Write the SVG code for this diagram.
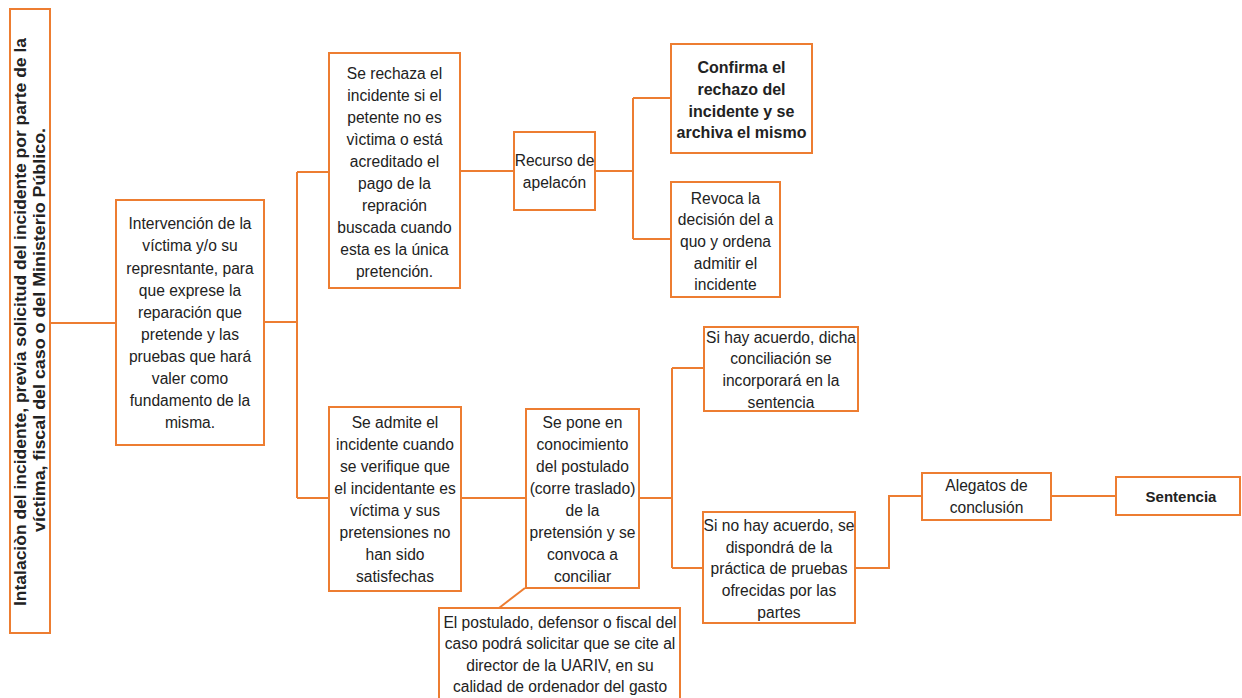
<svg xmlns="http://www.w3.org/2000/svg" width="1242" height="698" viewBox="0 0 1242 698">
<style>
.box{fill:#fff;stroke:#ED7D31;stroke-width:2}
.c{fill:none;stroke:#ED7D31;stroke-width:2}
.t{font-family:"Liberation Sans",Arial,sans-serif;font-size:15.6px;fill:#222;text-anchor:middle;dominant-baseline:central}
.b{font-weight:bold;font-size:15px}
.b2{font-weight:bold;font-size:16px}
</style>
<rect width="1242" height="698" fill="#fff"/>
<g id="connectors">
<path class="c" d="M50,323 H116"/>
<path class="c" d="M264,322 H297 M297,172 V498 M297,172 H329 M297,498 H329"/>
<path class="c" d="M460,171 H514"/>
<path class="c" d="M595,171 H633 M633,98 V239 M633,98 H671 M633,239 H671"/>
<path class="c" d="M461,498 H526"/>
<path class="c" d="M639,498 H672 M672,368 V568 M672,368 H704 M672,568 H703"/>
<path class="c" d="M525,588 L499,608"/>
<path class="c" d="M855,568 H889 V496 H922"/>
<path class="c" d="M1051,496 H1116"/>
</g>
<g id="n1">
<rect class="box" x="10" y="9" width="40" height="624"/>
<text class="t" style="font-weight:bold;font-size:16px" transform="translate(20,322) rotate(-90)" textLength="568" lengthAdjust="spacingAndGlyphs">Intalaciòn del incidente, previa solicitud del incidente por parte de la</text>
<text class="t" style="font-weight:bold;font-size:16px" transform="translate(39,330) rotate(-90)" textLength="404" lengthAdjust="spacingAndGlyphs">víctima, fiscal del caso o del Ministerio Público.</text>
</g>
<g id="n2">
<rect class="box" x="116" y="200" width="148" height="245"/>
<text class="t" x="190" y="223">Intervención de la</text>
<text class="t" x="190" y="245">víctima y/o su</text>
<text class="t" x="190" y="268">represntante, para</text>
<text class="t" x="190" y="290">que exprese la</text>
<text class="t" x="190" y="312">reparación que</text>
<text class="t" x="190" y="334">pretende y las</text>
<text class="t" x="190" y="356">pruebas que hará</text>
<text class="t" x="190" y="378">valer como</text>
<text class="t" x="190" y="400">fundamento de la</text>
<text class="t" x="190" y="422">misma.</text>
</g>
<g id="n3">
<rect class="box" x="329" y="53" width="131" height="235"/>
<text class="t" x="394.5" y="73">Se rechaza el</text>
<text class="t" x="394.5" y="95">incidente si el</text>
<text class="t" x="394.5" y="117">petente no es</text>
<text class="t" x="394.5" y="139">vìctima o está</text>
<text class="t" x="394.5" y="161">acreditado el</text>
<text class="t" x="394.5" y="183">pago de la</text>
<text class="t" x="394.5" y="205">repración</text>
<text class="t" x="394.5" y="227">buscada cuando</text>
<text class="t" x="394.5" y="249">esta es la única</text>
<text class="t" x="394.5" y="271">pretención.</text>
</g>
<g id="n4">
<rect class="box" x="514" y="132" width="81" height="78"/>
<text class="t" x="554.5" y="160">Recurso de</text>
<text class="t" x="554.5" y="182">apelacón</text>
</g>
<g id="n5">
<rect class="box" x="671" y="44" width="141" height="109"/>
<text class="t b2" x="741.5" y="67">Confirma el</text>
<text class="t b2" x="741.5" y="89">rechazo del</text>
<text class="t b2" x="741.5" y="111">incidente y se</text>
<text class="t b2" x="741.5" y="132">archiva el mismo</text>
</g>
<g id="n6">
<rect class="box" x="671" y="182" width="109" height="115"/>
<text class="t" x="725.5" y="198">Revoca la</text>
<text class="t" x="725.5" y="219.5">decisión del a</text>
<text class="t" x="725.5" y="241">quo y ordena</text>
<text class="t" x="725.5" y="263">admitir el</text>
<text class="t" x="725.5" y="284">incidente</text>
</g>
<g id="n7">
<rect class="box" x="329" y="407" width="132" height="184"/>
<text class="t" x="395" y="422">Se admite el</text>
<text class="t" x="395" y="444">incidente cuando</text>
<text class="t" x="395" y="466">se verifique que</text>
<text class="t" x="395" y="488">el incidentante es</text>
<text class="t" x="395" y="510">víctima y sus</text>
<text class="t" x="395" y="532">pretensiones no</text>
<text class="t" x="395" y="554">han sido</text>
<text class="t" x="395" y="576">satisfechas</text>
</g>
<g id="n8">
<rect class="box" x="526" y="409" width="113" height="179"/>
<text class="t" x="582.5" y="422">Se pone en</text>
<text class="t" x="582.5" y="444">conocimiento</text>
<text class="t" x="582.5" y="466">del postulado</text>
<text class="t" x="582.5" y="488">(corre traslado)</text>
<text class="t" x="582.5" y="510">de la</text>
<text class="t" x="582.5" y="532">pretensión y se</text>
<text class="t" x="582.5" y="554">convoca a</text>
<text class="t" x="582.5" y="576">conciliar</text>
</g>
<g id="n9">
<rect class="box" x="439" y="608" width="241" height="100"/>
<text class="t" x="560" y="622">El postulado, defensor o fiscal del</text>
<text class="t" x="560" y="643">caso podrá solicitar que se cite al</text>
<text class="t" x="560" y="665">director de la UARIV, en su</text>
<text class="t" x="560" y="686">calidad de ordenador del gasto</text>
</g>
<g id="n10">
<rect class="box" x="704" y="327" width="154" height="84"/>
<text class="t" x="781" y="337">Si hay acuerdo, dicha</text>
<text class="t" x="781" y="358">conciliación se</text>
<text class="t" x="781" y="380">incorporará en la</text>
<text class="t" x="781" y="402">sentencia</text>
</g>
<g id="n11">
<rect class="box" x="703" y="512" width="152" height="111"/>
<text class="t" x="779" y="525">Si no hay acuerdo, se</text>
<text class="t" x="779" y="547">dispondrá de la</text>
<text class="t" x="779" y="568">práctica de pruebas</text>
<text class="t" x="779" y="590">ofrecidas por las</text>
<text class="t" x="779" y="612">partes</text>
</g>
<g id="n12">
<rect class="box" x="922" y="473" width="129" height="47"/>
<text class="t" x="986.5" y="485">Alegatos de</text>
<text class="t" x="986.5" y="507">conclusión</text>
</g>
<g id="n13">
<rect class="box" x="1116" y="477" width="124" height="38"/>
<text class="t b" x="1181" y="496">Sentencia</text>
</g>
</svg>
